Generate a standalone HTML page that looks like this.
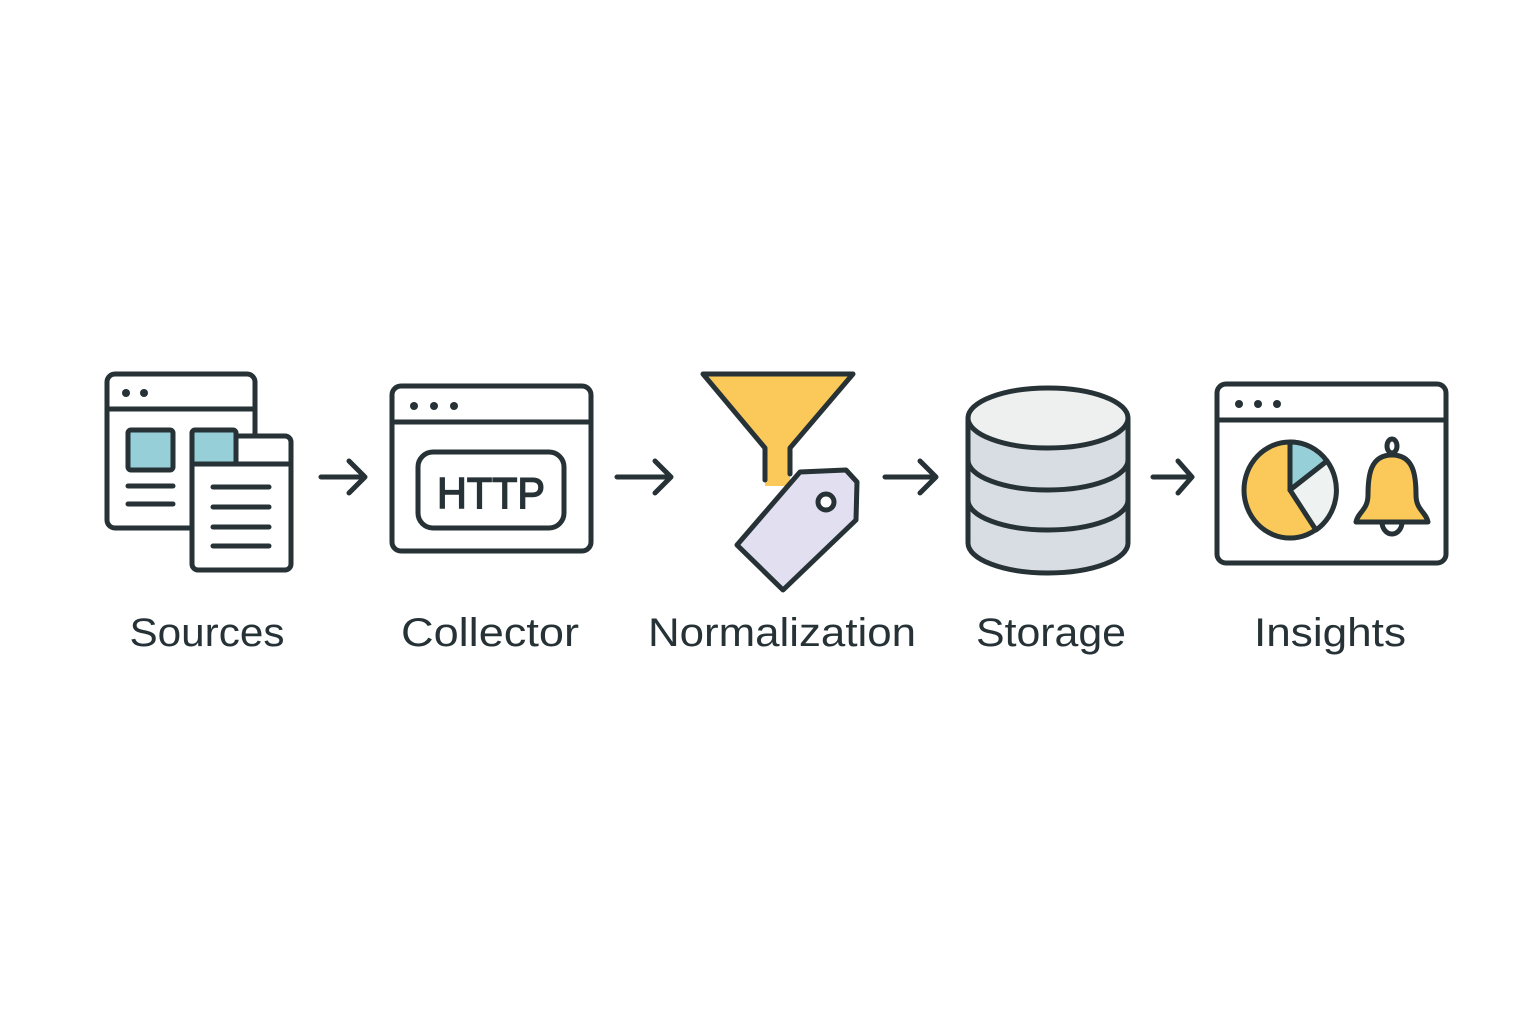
<!DOCTYPE html>
<html><head><meta charset="utf-8"><style>html,body{margin:0;padding:0;background:#fff}svg{display:block}</style></head>
<body>
<svg width="1536" height="1024" viewBox="0 0 1536 1024" xmlns="http://www.w3.org/2000/svg">
<rect width="1536" height="1024" fill="#fff"/>
<g stroke="#263236" stroke-width="5" stroke-linecap="round" stroke-linejoin="round" fill="none">
<!-- Sources -->
<rect x="107" y="374" width="148" height="154" rx="8" fill="#fff"/>
<line x1="107" y1="409" x2="255" y2="409"/>
<rect x="128" y="430" width="45" height="40" rx="3" fill="#96cfd8"/>
<line x1="128" y1="486" x2="173" y2="486"/>
<line x1="128" y1="504" x2="173" y2="504"/>
<rect x="192" y="436" width="99" height="134" rx="6" fill="#fff"/>
<rect x="192" y="430" width="44" height="34" rx="3" fill="#96cfd8"/>
<line x1="192" y1="464" x2="291" y2="464"/>
<line x1="213" y1="487" x2="269" y2="487"/>
<line x1="213" y1="507" x2="269" y2="507"/>
<line x1="213" y1="527" x2="269" y2="527"/>
<line x1="213" y1="546" x2="269" y2="546"/>
<!-- arrow 1 -->
<path d="M321 477 H365 M349 461 L365 477 L349 493"/>
<!-- Collector -->
<rect x="392" y="386" width="199" height="165" rx="9" fill="#fff"/>
<line x1="392" y1="422" x2="591" y2="422"/>
<rect x="418" y="452" width="146" height="76" rx="15"/>
<!-- arrow 2 -->
<path d="M617 477 H671 M655 461 L671 477 L655 493"/>
<!-- funnel -->
<path d="M765 486 V448 L703 374 H853 L790 448 V486 Z" fill="#fbc95a" stroke="none"/>
<path d="M765 480 V448 L703 374 H853 L790 448 V474"/>
<!-- tag -->
<path d="M800 472 L846 470 L857 482 L856 520 L783 590 L737 545 Z" fill="#e2e0f0"/>
<circle cx="826" cy="502" r="8" fill="#fff"/>
<!-- arrow 3 -->
<path d="M885 477 H936 M920 461 L936 477 L920 493"/>
<!-- storage -->
<path d="M968 418 V543 A80 30 0 0 0 1128 543 V418" fill="#d7dde2"/>
<ellipse cx="1048" cy="418" rx="80" ry="30" fill="#eef0f0"/>
<path d="M968 460 A80 30 0 0 0 1128 460"/>
<path d="M968 500 A80 30 0 0 0 1128 500"/>
<!-- arrow 4 -->
<path d="M1153 477 H1192 M1178 461 L1192 477 L1178 493"/>
<!-- Insights -->
<rect x="1217" y="384" width="229" height="179" rx="9" fill="#fff"/>
<line x1="1217" y1="420" x2="1446" y2="420"/>
<ellipse cx="1290" cy="490" rx="46" ry="48" fill="#fbc95a"/>
<path d="M1290 490 L1290 442 A46 48 0 0 1 1327 461 Z" fill="#96cfd8"/>
<path d="M1290 490 L1327 461 A46 48 0 0 1 1316 530 Z" fill="#eef2f0"/>
<path d="M1392 455 C1370 455 1368 476 1368 495 C1368 510 1358 512 1356 522 H1428 C1426 512 1416 510 1416 495 C1416 476 1414 455 1392 455 Z" fill="#fbc95a"/>
<path d="M1382 522 A10 12 0 0 0 1402 522"/>
<ellipse cx="1392" cy="446" rx="5" ry="7"/>
</g>
<g fill="#263236">
<circle cx="126" cy="393" r="4"/><circle cx="144" cy="393" r="4"/>
<circle cx="414" cy="406" r="4"/><circle cx="434" cy="406" r="4"/><circle cx="454" cy="406" r="4"/>
<circle cx="1239" cy="404" r="4"/><circle cx="1258" cy="404" r="4"/><circle cx="1277" cy="404" r="4"/>
</g>
<g font-family="'Liberation Sans', 'DejaVu Sans', sans-serif" fill="#263236" text-anchor="middle">
<text x="491" y="508" font-size="44" stroke="#263236" stroke-width="1.5" textLength="108" lengthAdjust="spacingAndGlyphs">HTTP</text>
<g font-size="40">
<text x="207" y="646" textLength="155" lengthAdjust="spacingAndGlyphs">Sources</text>
<text x="490" y="646" textLength="178" lengthAdjust="spacingAndGlyphs">Collector</text>
<text x="782" y="646" textLength="268" lengthAdjust="spacingAndGlyphs">Normalization</text>
<text x="1051" y="646" textLength="150" lengthAdjust="spacingAndGlyphs">Storage</text>
<text x="1330" y="646" textLength="152" lengthAdjust="spacingAndGlyphs">Insights</text>
</g>
</g>
</svg>
</body></html>
